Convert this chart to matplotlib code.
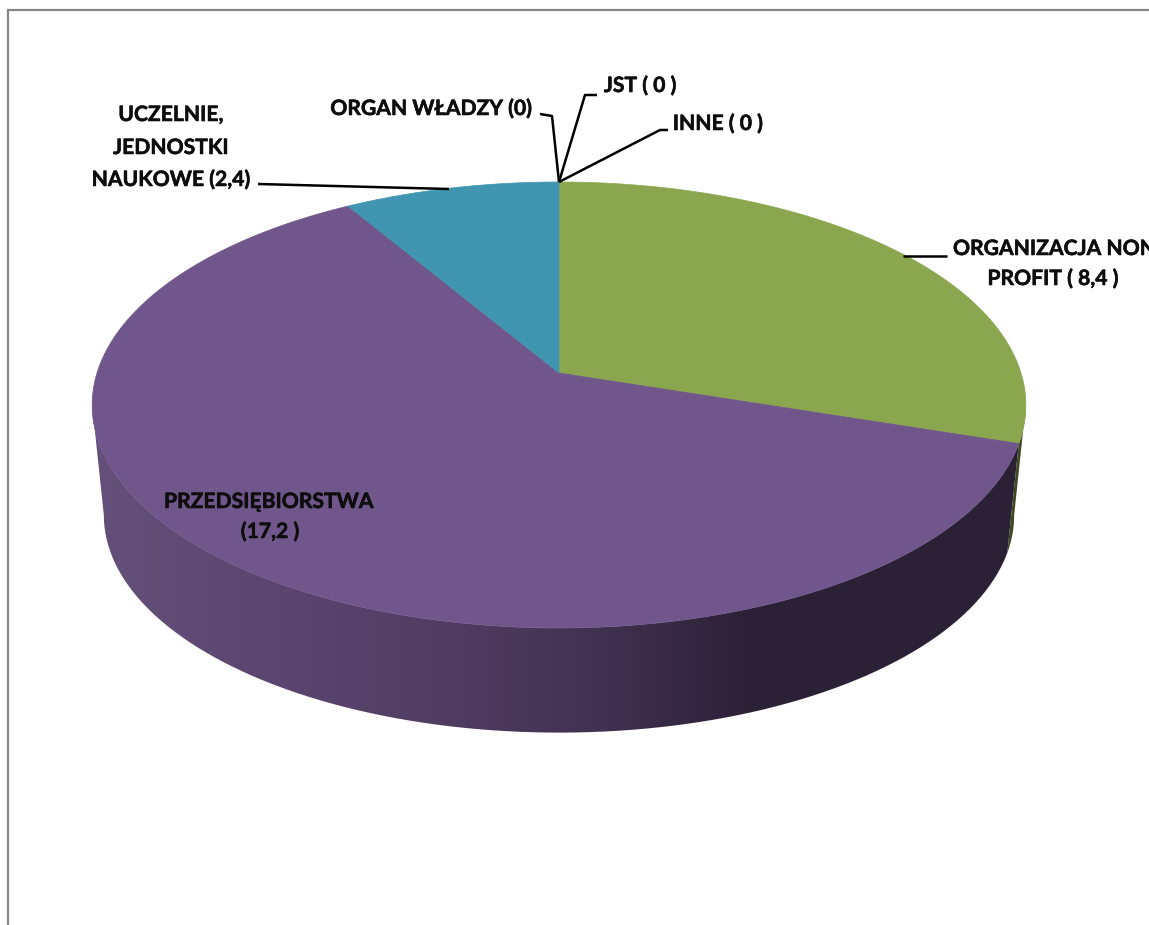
import numpy as np
import matplotlib
matplotlib.use("Agg")
import matplotlib.pyplot as plt
import matplotlib.patheffects as pe
from matplotlib.colors import LinearSegmentedColormap
from matplotlib.patches import PathPatch, Polygon
from matplotlib.path import Path

# slices, clockwise from 12 o'clock
categories = ["ORGANIZACJA NON-PROFIT", "PRZEDSIĘBIORSTWA", "UCZELNIE, JEDNOSTKI NAUKOWE",
              "ORGAN WŁADZY", "JST", "INNE"]
values = [8.4, 17.2, 2.4, 0, 0, 0]
colors = ["#8aa64e", "#71568b", "#4095b0", "#bf504d", "#4f81bd", "#f79646"]

plt.rcParams['font.family'] = ['Lato', 'DejaVu Sans']

# the pie is a circle seen in perspective, all in reference pixels
CX, CY = 559, 373
A, B, K = 462, 218.4, 0.1435
# bottom rim of the disc
SCALE_BOTTOM, CY_BOTTOM = 0.975, 484


def project(theta, scale=1.0, cy=CY):
    u, v = np.sin(theta), np.cos(theta)
    d = 1 + K * v
    return np.column_stack((CX + A * scale * u / d, cy - B * scale * v / d))


def arc(t0, t1, scale=1.0, cy=CY, n=200):
    return project(np.linspace(t0, t1, n), scale, cy)


def main():
    fig = plt.figure(figsize=(11.49, 9.25), dpi=100)
    ax = fig.add_axes([0, 0, 1, 1])
    ax.axis('off')

    edges = np.cumsum([0] + values) / sum(values) * 2 * np.pi
    t_wide = np.arccos(-K)  # where the outline is widest

    # side wall: dark green sliver, then shaded purple
    t_green = edges[1]
    sliver = np.vstack((arc(t_wide, t_green), arc(t_green, t_wide, SCALE_BOTTOM, CY_BOTTOM)))
    ax.add_patch(Polygon(sliver, closed=True, fc="#3f4a22", ec="none", zorder=1))

    t_end = 2 * np.pi - t_wide
    wall = np.vstack((arc(t_green, t_end), arc(t_end, t_green, SCALE_BOTTOM, CY_BOTTOM)))
    cmap = LinearSegmentedColormap.from_list("wall", [
        (0.0, "#64507a"), (0.2, "#5c4570"), (0.42, "#4d3a5e"), (0.55, "#413150"),
        (0.7, "#2c2238"), (1.0, "#2b2136")])
    img = ax.imshow(np.linspace(0, 1, 512)[None, :], cmap=cmap, aspect='auto',
                    extent=(92, 1026, 740, 380), zorder=2)
    clip = PathPatch(Path(wall), transform=ax.transData, fc="none", ec="none")
    ax.add_patch(clip)
    img.set_clip_path(clip)

    # top face
    for i, val in enumerate(values):
        if val == 0:
            continue
        pts = np.vstack(([[CX, CY]], arc(edges[i], edges[i + 1])))
        ax.add_patch(Polygon(pts, closed=True, fc=colors[i], ec=colors[i], lw=0.5, zorder=3))

    ax.set_xlim(0, 1149)
    ax.set_ylim(925, 0)

    # chart frame
    ax.plot([8, 8, 1149], [925, 10, 10], color="#868686", lw=1.6, zorder=1,
            solid_joinstyle='miter', clip_on=False)

    # leader lines
    leaders = [
        ([559, 660, 668], [182, 130, 130]),
        ([559, 585, 597], [182, 95, 95]),
        ([559, 552, 540], [182, 116, 114]),
        ([449, 258], [189, 184]),
        ([903, 947], [256, 256]),
    ]
    for xs, ys in leaders:
        ax.plot(xs, ys, color="black", lw=1.8, zorder=4, solid_capstyle='butt')

    # labels: text, x, y, alignment
    labels = [
        ("INNE ( 0 )", 718, 124, 'center'), ("JST ( 0 )", 640, 86, 'center'),
        ("ORGAN WŁADZY (0)", 431, 109, 'center'),
        ("UCZELNIE,", 171, 115, 'center'), ("JEDNOSTKI", 171, 148, 'center'),
        ("NAUKOWE (2,4)", 171, 180, 'center'),
        ("ORGANIZACJA NON-", 953, 249, 'left'), ("PROFIT ( 8,4 )", 1053, 279, 'center'),
        ("PRZEDSIĘBIORSTWA", 269, 502, 'center'), ("(17,2 )", 270, 532, 'center'),
    ]
    for txt, x, y, ha in labels:
        ax.text(x, y, txt, ha=ha, va='center', fontsize=15.2, fontweight='bold',
                color="#0d0d0d", zorder=5,
                path_effects=[pe.withStroke(linewidth=0.4, foreground="#0d0d0d")])

    fig.savefig("out.png", dpi=100, facecolor="white")


if __name__ == "__main__":
    main()
